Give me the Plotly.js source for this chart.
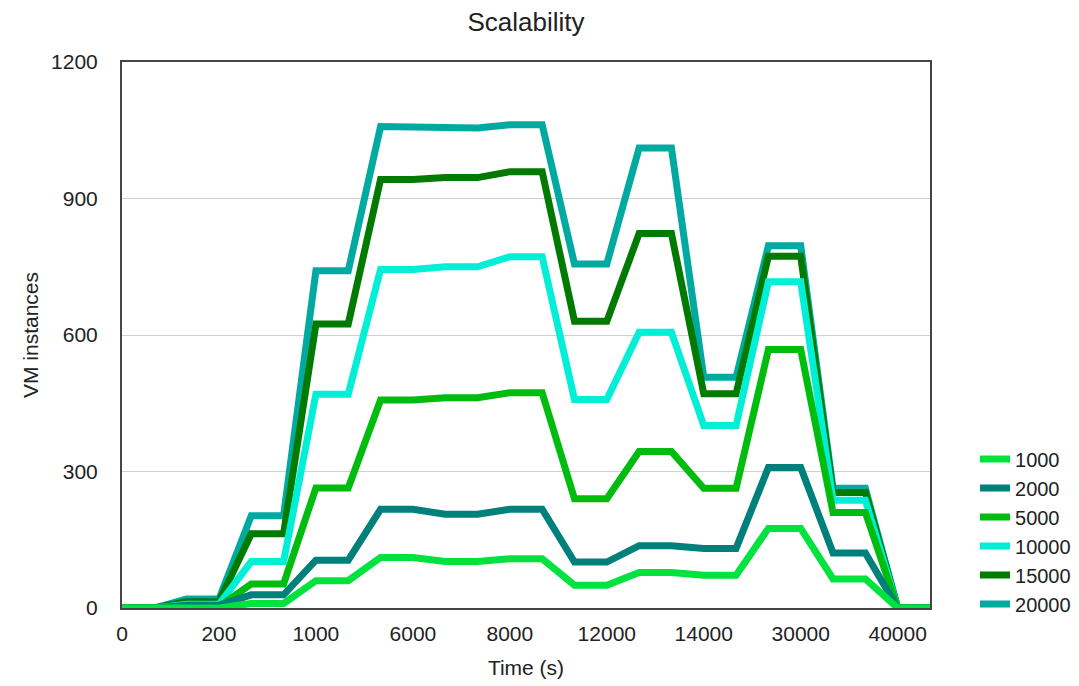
<!DOCTYPE html>
<html>
<head>
<meta charset="utf-8">
<script src="https://cdn.plot.ly/plotly-3.0.1.min.js"></script>
<style>html,body{margin:0;padding:0;background:#fff;}#chart{width:1079px;height:686px;}</style>
</head>
<body>
<div id="chart"></div>
<script>
// sample positions along the time axis (26 samples, every third one labelled)
const sampleIndex = [0,1,2,3,4,5,6,7,8,9,10,11,12,13,14,15,16,17,18,19,20,21,22,23,24,25];
const tickIndex = [0,3,6,9,12,15,18,21,24];
const timeLabels = ['0','200','1000','6000','8000','12000','14000','30000','40000'];

const seriesNames = ['1000','2000','5000','10000','15000','20000'];
const seriesColors = ['#00e23d','#00807a','#00bc0e','#00efd6','#007a00','#00aaa1'];

const s1000  = [0,0,0,0,10,10,60,60,111,111,102,102,108,108,50,50,78,78,72,72,175,175,64,64,0,0];
const s2000  = [0,0,6,6,29,29,105,105,217,217,206,206,217,217,101,101,137,137,131,131,309,309,121,121,0,0];
const s5000  = [0,0,3,3,53,53,264,264,457,457,462,462,473,473,240,240,344,344,263,263,568,568,210,210,0,0];
const s10000 = [0,0,8,8,102,102,470,470,744,744,750,750,772,772,458,458,606,606,401,401,717,717,237,237,0,0];
const s15000 = [0,0,14,14,163,163,624,624,942,942,946,946,959,959,630,630,823,823,471,471,773,773,254,254,0,0];
const s20000 = [0,0,20,20,203,203,741,741,1058,1058,1055,1055,1062,1062,756,756,1011,1011,507,507,796,796,263,263,0,0];

const seriesValues = [s1000, s2000, s5000, s10000, s15000, s20000];

const font = "'Liberation Sans', Arial, Helvetica, sans-serif";
const traces = [];
for (let i = seriesNames.length - 1; i >= 0; i--) {
  traces.push({
    x: sampleIndex,
    y: seriesValues[i],
    type: 'scatter',
    mode: 'lines',
    name: seriesNames[i],
    line: {color: seriesColors[i], width: 7}
  });
}

const layout = {
  width: 1079,
  height: 686,
  paper_bgcolor: '#ffffff',
  plot_bgcolor: '#ffffff',
  margin: {l: 122, r: 149, t: 62, b: 78, pad: 0, autoexpand: false},
  font: {family: font, size: 21, color: '#222'},
  title: {text: 'Scalability', font: {family: font, size: 26, color: '#222'}, x: 0.5, xref: 'paper', y: 1 - 22/686, yref: 'container', yanchor: 'middle'},
  showlegend: true,
  legend: {x: 1.0557, xanchor: 'left', y: 0.14, yanchor: 'middle', traceorder: 'reversed', font: {family: font, size: 20, color: '#222'}, bgcolor: 'rgba(0,0,0,0)', tracegroupgap: 0},
  xaxis: {
    range: [0, 25],
    tickmode: 'array',
    tickvals: tickIndex,
    ticktext: timeLabels,
    showgrid: false,
    zeroline: false,
    showline: true, mirror: true, linecolor: '#454545', linewidth: 2,
    ticks: 'outside', ticklen: 6, tickcolor: 'rgba(0,0,0,0)',
    tickfont: {family: font, size: 21, color: '#222'},
    title: {text: 'Time (s)', font: {family: font, size: 21, color: '#222'}, standoff: 16}
  },
  yaxis: {
    range: [0, 1200],
    tickmode: 'linear', tick0: 0, dtick: 300,
    showgrid: true, gridcolor: '#d0d0d0', gridwidth: 1,
    zeroline: false,
    showline: true, mirror: true, linecolor: '#454545', linewidth: 2,
    ticks: 'outside', ticklen: 18, tickcolor: 'rgba(0,0,0,0)',
    tickfont: {family: font, size: 21, color: '#222'},
    title: {text: 'VM instances', font: {family: font, size: 21, color: '#222'}, standoff: 7}
  }
};

Plotly.newPlot('chart', traces, layout, {displayModeBar: false, staticPlot: true});
</script>
</body>
</html>
